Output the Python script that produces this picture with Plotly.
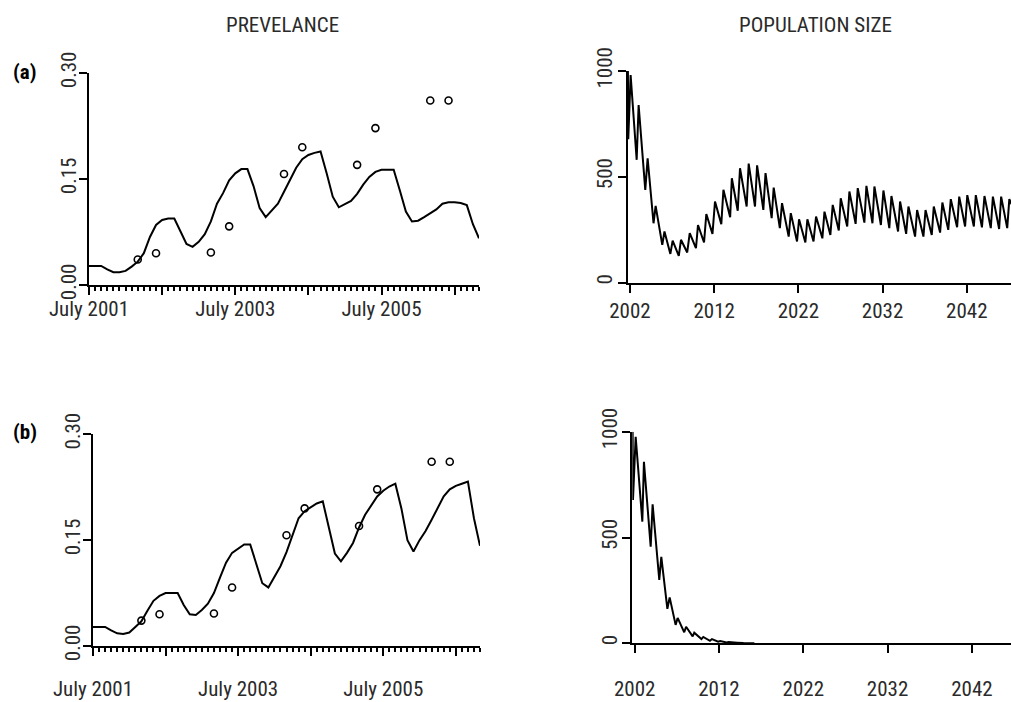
import plotly.graph_objects as go

# ---------------- data ----------------
months = list(range(65))  # months since July 2001
prev_model_a = [0.027, 0.027, 0.027, 0.022, 0.018, 0.018, 0.020, 0.026, 0.033, 0.045,
                0.068, 0.085, 0.092, 0.094, 0.094, 0.076, 0.058, 0.054, 0.061, 0.072,
                0.090, 0.115, 0.130, 0.148, 0.158, 0.164, 0.164, 0.140, 0.109, 0.096,
                0.105, 0.115, 0.132, 0.150, 0.166, 0.178, 0.184, 0.187, 0.189, 0.158,
                0.125, 0.110, 0.114, 0.119, 0.129, 0.142, 0.153, 0.160, 0.163, 0.163,
                0.163, 0.134, 0.104, 0.090, 0.091, 0.096, 0.101, 0.107, 0.115, 0.117,
                0.117, 0.116, 0.113, 0.086, 0.066]
prev_model_b = [0.027, 0.027, 0.027, 0.022, 0.018, 0.017, 0.019, 0.027, 0.035, 0.050,
                0.064, 0.071, 0.075, 0.075, 0.075, 0.058, 0.045, 0.044, 0.051, 0.060,
                0.075, 0.097, 0.118, 0.132, 0.138, 0.144, 0.144, 0.118, 0.089, 0.083,
                0.098, 0.113, 0.133, 0.158, 0.181, 0.191, 0.197, 0.202, 0.205, 0.169,
                0.131, 0.120, 0.132, 0.146, 0.168, 0.186, 0.199, 0.212, 0.220, 0.226,
                0.230, 0.195, 0.150, 0.134, 0.150, 0.163, 0.179, 0.195, 0.212, 0.222,
                0.227, 0.230, 0.233, 0.181, 0.142]
obs_months = [8, 11, 20, 23, 32, 35, 44, 47, 56, 59]
obs_prev = [0.036, 0.045, 0.046, 0.083, 0.157, 0.195, 0.170, 0.222, 0.261, 0.261]
month_ticks = [0, 12, 24, 36, 48, 60]
month_labels = ["July 2001", "", "July 2003", "", "July 2005", ""]

# population size (a): start, yearly troughs and peaks, end
pop_a_start = (2001.76, 1000)
pop_a_trough_years = [2001.80, 2002.80, 2003.82, 2004.80, 2005.84, 2006.80, 2007.80, 2008.80,
                      2009.84, 2010.80, 2011.80, 2012.85, 2013.90, 2014.80, 2015.86, 2016.85,
                      2017.84, 2018.83, 2019.80, 2020.85, 2021.84, 2022.83, 2023.80, 2024.85,
                      2025.80, 2026.80, 2027.80, 2028.80, 2029.84, 2030.80, 2031.80, 2032.80,
                      2033.84, 2034.80, 2035.86, 2036.85, 2037.84, 2038.83, 2039.80, 2040.85,
                      2041.80, 2042.84, 2043.80, 2044.85, 2045.84, 2046.80]
pop_a_troughs = [677, 580, 438, 280, 178, 135, 126, 142,
                 162, 189, 230, 276, 309, 339, 359, 359,
                 343, 304, 257, 217, 194, 189, 194, 209,
                 225, 246, 265, 277, 283, 280, 272, 257,
                 241, 230, 217, 217, 225, 236, 249, 261,
                 265, 265, 261, 257, 253, 257]
pop_a_peak_years = [2002.08, 2003.03, 2004.10, 2005.05, 2006.10, 2007.07, 2008.06, 2009.10,
                    2010.08, 2011.07, 2012.10, 2013.10, 2014.10, 2015.07, 2016.10, 2017.10,
                    2018.10, 2019.07, 2020.06, 2021.10, 2022.08, 2023.07, 2024.10, 2025.10,
                    2026.08, 2027.03, 2028.06, 2029.05, 2030.08, 2031.03, 2032.10, 2033.05,
                    2034.08, 2035.07, 2036.10, 2037.10, 2038.08, 2039.10, 2040.10, 2041.10,
                    2042.06, 2043.07, 2044.10, 2045.10, 2046.08, 2047.05]
pop_a_peaks = [981, 839, 587, 362, 241, 198, 202, 233,
               272, 324, 383, 438, 493, 540, 562, 554,
               517, 449, 375, 328, 299, 299, 312, 335,
               367, 398, 430, 446, 457, 454, 435, 409,
               383, 359, 343, 343, 359, 378, 394, 406,
               413, 413, 409, 406, 406, 394]
pop_a_end = (2047.30, 370)

# population size (b)
pop_b_start = (2001.76, 1000)
pop_b_trough_years = [2001.80, 2002.91, 2003.90, 2004.92, 2005.88, 2006.86, 2007.88,
                      2008.88, 2009.92, 2010.93, 2011.90, 2012.90, 2013.90, 2014.90]
pop_b_troughs = [677, 575, 457, 299, 163, 87, 52, 33, 20, 12, 8, 4, 2, 1]
pop_b_peak_years = [2002.12, 2003.10, 2004.13, 2005.16, 2006.15, 2007.10, 2008.10,
                    2009.07, 2010.14, 2011.17, 2012.15, 2013.15, 2014.15, 2015.15]
pop_b_peaks = [976, 858, 657, 409, 217, 120, 78, 50, 30, 20, 11, 6, 3, 1.5]
pop_b_end = (2016.2, 0.5)

year_ticks = [2002, 2012, 2022, 2032, 2042]


def zigzag(start, ty, tv, py, pv, end):
    xs, ys = [start[0]], [start[1]]
    for a, b, c, d in zip(ty, tv, py, pv):
        xs += [a, c]
        ys += [b, d]
    xs.append(end[0])
    ys.append(end[1])
    return xs, ys


pa_x, pa_y = zigzag(pop_a_start, pop_a_trough_years, pop_a_troughs,
                    pop_a_peak_years, pop_a_peaks, pop_a_end)
pb_x, pb_y = zigzag(pop_b_start, pop_b_trough_years, pop_b_troughs,
                    pop_b_peak_years, pop_b_peaks, pop_b_end)

# ---------------- layout helpers ----------------
W, H = 1011, 702
FONT = "Liberation Sans Narrow, Arial Narrow, Roboto Condensed, sans-serif"
TXT = "#2a2a2a"


def xd(a, b):
    return [a / W, b / W]


def yd(top, bottom):
    return [1 - bottom / H, 1 - top / H]


LINE = dict(color="black", width=2)
MARK = dict(symbol="circle-open", size=7, color="black",
            line=dict(width=1.6, color="black"))

fig = go.Figure()
fig.add_trace(go.Scatter(x=months, y=prev_model_a, mode="lines", line=LINE,
                         xaxis="x", yaxis="y", showlegend=False))
fig.add_trace(go.Scatter(x=obs_months, y=obs_prev, mode="markers", marker=MARK,
                         xaxis="x", yaxis="y", showlegend=False))
fig.add_trace(go.Scatter(x=pa_x, y=pa_y, mode="lines", line=LINE,
                         xaxis="x2", yaxis="y2", showlegend=False))
fig.add_trace(go.Scatter(x=months, y=prev_model_b, mode="lines", line=LINE,
                         xaxis="x3", yaxis="y3", showlegend=False))
fig.add_trace(go.Scatter(x=obs_months, y=obs_prev, mode="markers", marker=MARK,
                         xaxis="x3", yaxis="y3", showlegend=False))
fig.add_trace(go.Scatter(x=pb_x, y=pb_y, mode="lines", line=LINE,
                         xaxis="x4", yaxis="y4", showlegend=False))

common = dict(showline=True, linecolor="black", linewidth=2, ticks="outside",
              tickcolor="black", tickwidth=2, ticklen=8, showgrid=False,
              zeroline=False, automargin=False,
              tickfont=dict(family=FONT, size=21, color=TXT))

minor = dict(ticks="outside", ticklen=4, tickcolor="black", tickwidth=1.5,
             dtick=1, tick0=0, showgrid=False)

prev_y = dict(range=[0, 0.30], tickvals=[0, 0.15, 0.30],
              ticktext=["0.00", "0.15", "0.30"], tickangle=-90)
pop_y = dict(range=[0, 1000], tickvals=[0, 500, 1000],
             ticktext=["0", "500", "1000"], tickangle=-90)

fig.update_layout(
    template="none",
    width=W, height=H, margin=dict(l=0, r=0, t=0, b=0, pad=0),
    paper_bgcolor="white", plot_bgcolor="white",
    xaxis=dict(common, domain=xd(89, 479), range=[0, 64], anchor="y",
               tickvals=month_ticks, ticktext=month_labels, minor=minor,
               ticklabelstandoff=-4),
    yaxis=dict(common, **prev_y, domain=yd(73, 285), anchor="x",
               ticklabelstandoff=-5),
    xaxis2=dict(common, domain=xd(627.5, 1011), range=[2001.71, 2047.25],
                anchor="y2", tickvals=year_ticks, ticklabelstandoff=0),
    yaxis2=dict(common, **pop_y, domain=yd(71, 282.5), anchor="x2",
                ticklabelstandoff=-3),
    xaxis3=dict(common, domain=xd(93, 480), range=[0, 64], anchor="y3",
                tickvals=month_ticks, ticktext=month_labels, minor=minor,
                ticklabelstandoff=15),
    yaxis3=dict(common, **prev_y, domain=yd(434.3, 646), anchor="x3",
                ticklabelstandoff=-5),
    xaxis4=dict(common, domain=xd(632.3, 1011), range=[2001.72, 2046.64],
                anchor="y4", tickvals=year_ticks, ticklabelstandoff=17),
    yaxis4=dict(common, **pop_y, domain=yd(431.7, 643.3), anchor="x4",
                ticklabelstandoff=-3),
    annotations=[
        dict(text="PREVELANCE", x=282 / W, y=1 - 25 / H, xref="paper", yref="paper",
             showarrow=False, xanchor="center", yanchor="middle",
             font=dict(family=FONT, size=21, color=TXT)),
        dict(text="POPULATION SIZE", x=815 / W, y=1 - 25 / H, xref="paper", yref="paper",
             showarrow=False, xanchor="center", yanchor="middle",
             font=dict(family=FONT, size=21, color=TXT)),
        dict(text="<b>(a)</b>", x=24 / W, y=1 - 72 / H, xref="paper", yref="paper",
             showarrow=False, xanchor="center", yanchor="middle",
             font=dict(family=FONT, size=21, color="black")),
        dict(text="<b>(b)</b>", x=25 / W, y=1 - 432 / H, xref="paper", yref="paper",
             showarrow=False, xanchor="center", yanchor="middle",
             font=dict(family=FONT, size=21, color="black")),
    ],
)

fig.write_html("out.html", config={"displayModeBar": False},
               post_script="document.body.style.margin='0';")
